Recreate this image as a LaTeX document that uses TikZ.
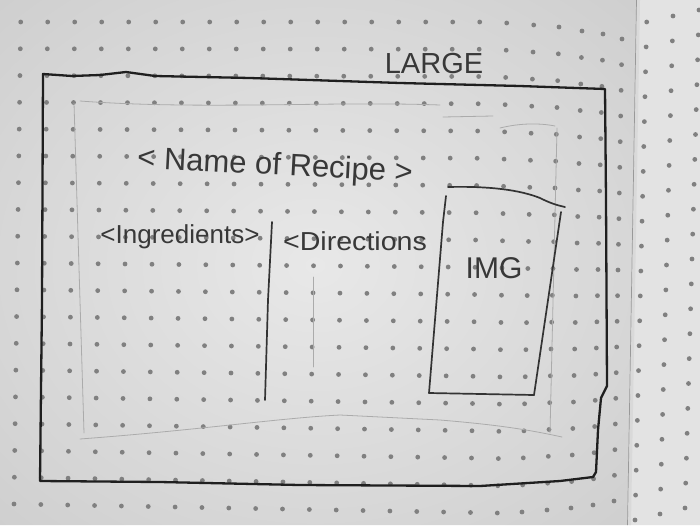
\documentclass[tikz,border=0pt]{standalone}
\usepackage{fontspec}
\setmainfont{Liberation Sans}
\begin{document}
\begin{tikzpicture}[x=1pt,y=-1pt,
  ink/.style={draw=black!88,line width=2.3pt,line join=round,line cap=round},
  pen/.style={draw=black!80,line width=1.7pt,line join=round,line cap=round},
  pencil/.style={draw=black!33,line width=0.8pt,line cap=round},
  hand/.style={text=black!78,inner sep=0pt},
  dot/.style={fill=black!50}]
\useasboundingbox (0,0) rectangle (700,525);

% paper: left page with a soft vignette, right page lighter
\begin{scope}
  \clip (0,0) -- (637,0) -- (628,525) -- (0,525) -- cycle;
  \shade[inner color=black!9,outer color=black!23] (-330,-260) rectangle (960,790);
\end{scope}
\fill[black!11] (637,0) -- (700,0) -- (700,525) -- (628,525) -- cycle;
% fold between the pages
\draw[white!85!black,line width=3pt] (638.5,0) -- (629.5,525);
\draw[black!40,line width=0.7pt] (636.5,0) -- (627.5,525);

% dot grid, left page (columns 0..17 regular)
\foreach \k in {0,...,17}{
  \foreach \j in {0,...,18}{
    \pgfmathsetmacro\t{\j/18}
    \pgfmathsetmacro\xx{(20.7+27*\k)*(1-\t)+(14+26.85*\k)*\t}
    \pgfmathsetmacro\yy{22*(1-\t)+(504+0.5*\k)*\t}
    \fill[dot] (\xx,\yy) circle (2.4);
  }
}
% dot grid, left page near the fold (columns bend with the paper)
\foreach \xt/\xb/\yt/\yb in {506.7/497.3/23/513, 533.7/522/25/512, 559/547/27/510,
                             582/571/31/508, 603/593/34/505, 622/614/39/501}{
  \foreach \j in {0,...,18}{
    \pgfmathsetmacro\t{\j/18}
    \pgfmathsetmacro\xx{\xt*(1-\t)+\xb*\t}
    \pgfmathsetmacro\yy{\yt*(1-\t)+\yb*\t}
    \fill[dot] (\xx,\yy) circle (2.4);
  }
}
% dot grid, right page
\foreach \xt/\xb/\yo in {646.7/635/22, 673/660/16, 699/685/10}{
  \foreach \j in {0,...,20}{
    \pgfmathsetmacro\t{\j/20}
    \pgfmathsetmacro\xx{\xt*(1-\t)+\xb*\t}
    \pgfmathsetmacro\yy{\yo+24.9*\j}
    \fill[dot] (\xx,\yy) circle (2.4);
  }
}

% outer frame of the large layout
\draw[ink] (43,74) -- (72,76) -- (100,75) -- (126,72) -- (155,76) -- (250,78)
  -- (400,83) -- (520,86) -- (605,89) -- (606,200) -- (607,386) -- (601,398)
  -- (598,430) -- (596,472) -- (593,477) -- (560,481) -- (480,486) -- (300,485)
  -- (160,482) -- (40,481) -- (42,300) -- cycle;

% light pencil guide for the content area
\draw[pencil] (74,103) -- (84,433);
\draw[pencil] (80,101) .. controls (200,110) and (330,101) .. (440,105);
\draw[pencil] (443,117) -- (493,116);
\draw[pencil] (500,128) .. controls (520,123) and (540,123) .. (555,126);
\draw[pencil] (557,128) -- (550,433);
\draw[pencil] (80,439) .. controls (200,430) and (280,418) .. (340,415)
  -- (440,420) .. controls (500,425) and (530,430) .. (562,437);
\draw[pencil] (313,277) -- (313,367);

% column divider
\draw[pen] (272,222) -- (268,300) -- (265,400);

% image placeholder
\draw[pen] (448,187) .. controls (490,186) and (520,190) .. (540,198)
  .. controls (550,203) and (556,205) .. (565,207);
\draw[pen] (561,212) -- (534,395);
\draw[pen] (429,393) -- (534,395);
\draw[pen] (429,393) -- (443,222) -- (446,196);

% labels
\node[hand,font=\fontsize{29}{31}\selectfont] (size) at (434,64) {LARGE};
\node[hand,rotate=-3,font=\fontsize{31}{33}\selectfont] (title) at (275,167) {< Name of Recipe >};
\node[hand,font=\fontsize{26}{28}\selectfont] (ingr) at (180,237) {<Ingredients>};
\node[hand,font=\fontsize{26}{28}\selectfont] (dirs) at (355,241) {\scalebox{1.1}[1]{<Directions}};
\node[hand,font=\fontsize{30}{32}\selectfont] (img) at (494,268) {IMG};
\end{tikzpicture}
\end{document}
